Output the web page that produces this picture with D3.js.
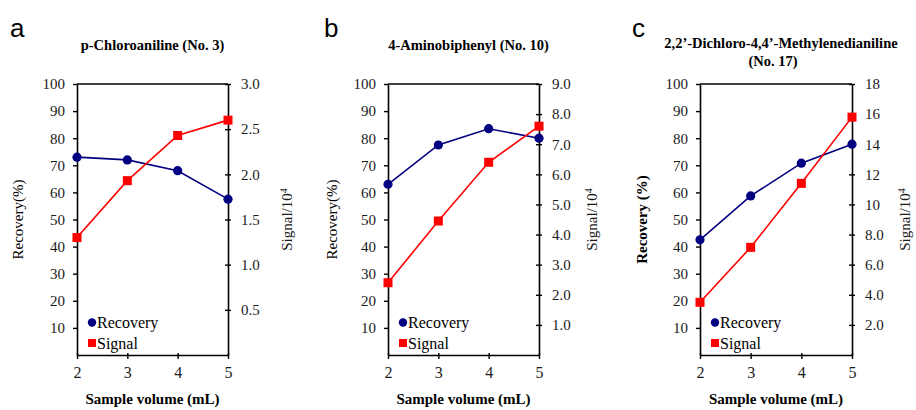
<!DOCTYPE html>
<html><head><meta charset="utf-8">
<script src="https://cdn.jsdelivr.net/npm/d3@7"></script>
<style>body{margin:0;background:#fff}svg{display:block}
svg text{font-family:"Liberation Serif","Tinos","Times New Roman","DejaVu Serif","Noto Serif",serif}</style>
</head><body>
<svg id="chart" width="916" height="410"></svg>
<script>
const volumes = [2, 3, 4, 5];
const panelLetters = ["a", "b", "c"];
const titles = [["p-Chloroaniline (No. 3)"], ["4-Aminobiphenyl (No. 10)"], ["2,2’-Dichloro-4,4’-Methylenedianiline", "(No. 17)"]];
const recoveryA = [73, 72, 68, 57.5];
const signalA = [1.30, 1.93, 2.43, 2.60];
const recoveryB = [63, 77.5, 83.5, 80];
const signalB = [2.4, 4.45, 6.4, 7.6];
const recoveryC = [42.5, 58.7, 70.8, 77.8];
const signalC = [3.5, 7.15, 11.4, 15.8];
const leftTicks = [10, 20, 30, 40, 50, 60, 70, 80, 90, 100];
const rightTicksA = [0.5, 1.0, 1.5, 2.0, 2.5, 3.0];
const rightLabelsA = ["0.5", "1.0", "1.5", "2.0", "2.5", "3.0"];
const rightTicksB = [1, 2, 3, 4, 5, 6, 7, 8, 9];
const rightLabelsB = ["1.0", "2.0", "3.0", "4.0", "5.0", "6.0", "7.0", "8.0", "9.0"];
const rightTicksC = [2, 4, 6, 8, 10, 12, 14, 16, 18];
const rightLabelsC = ["2.0", "4.0", "6.0", "8.0", "10", "12", "14", "16", "18"];
const rightMax = [3.0, 9.0, 18];
const yLabels = ["Recovery(%)", "Recovery(%)", "Recovery (%)"];
const seriesNames = ["Recovery", "Signal"];

(function () {
const panels = [
  {x0: 77, x1: 228, rec: recoveryA, sig: signalA, rt: rightTicksA, rl: rightLabelsA, ybold: false, ly: 59, ry: 59},
  {x0: 388, x1: 539, rec: recoveryB, sig: signalB, rt: rightTicksB, rl: rightLabelsB, ybold: false, ly: 56, ry: 53},
  {x0: 700, x1: 852, rec: recoveryC, sig: signalC, rt: rightTicksC, rl: rightLabelsC, ybold: true, ly: 58, ry: 53}
];
const plotTop = 84, plotBottom = 355;
const serif = '"Liberation Serif","Tinos","Times New Roman","DejaVu Serif","Noto Serif",serif';
const navy = "#000080", red = "#ff0000", ink = "#1a1a1a";
const svg = d3.select("#chart");

panels.forEach((p, i) => {
  const g = svg.append("g");
  const x = d3.scaleLinear().domain([2, 5]).range([p.x0, p.x1]);
  const yL = d3.scaleLinear().domain([0, 100]).range([plotBottom, plotTop]);
  const yR = d3.scaleLinear().domain([0, rightMax[i]]).range([plotBottom, plotTop]);

  g.append("line").attr("x1", p.x0).attr("x2", p.x1).attr("y1", plotTop).attr("y2", plotTop)
    .attr("stroke", "#000").attr("stroke-width", 1.6);

  const ax = (sel) => {
    sel.attr("font-family", null);
    sel.select(".domain").attr("stroke", "#000").attr("stroke-width", 1.6);
    sel.selectAll(".tick line").attr("stroke", "#000").attr("stroke-width", 1.4);
    sel.selectAll(".tick text").attr("fill", ink).style("font-family", serif).style("font-size", "15px");
  };

  const gl = g.append("g").attr("transform", `translate(${p.x0},0)`)
    .call(d3.axisLeft(yL).tickValues(leftTicks).tickSize(4).tickSizeOuter(0).tickPadding(8));
  ax(gl);

  const gr = g.append("g").attr("transform", `translate(${p.x1},0)`)
    .call(d3.axisRight(yR).tickValues(p.rt).tickFormat((d, k) => p.rl[k]).tickSize(3).tickSizeOuter(0).tickPadding(10));
  ax(gr);
  gr.selectAll(".tick line").attr("x1", -3);

  const gb = g.append("g").attr("transform", `translate(0,${plotBottom})`)
    .call(d3.axisBottom(x).tickValues(volumes).tickFormat(d3.format("d")).tickSize(4).tickSizeOuter(0).tickPadding(8));
  ax(gb);
  gb.selectAll(".tick line").attr("y1", -2);
  gb.selectAll(".tick text").style("font-size", "16px");

  const recLine = d3.line().x((d, k) => x(volumes[k])).y(d => yL(d));
  const sigLine = d3.line().x((d, k) => x(volumes[k])).y(d => yR(d));
  g.append("path").datum(p.rec).attr("d", recLine).attr("fill", "none").attr("stroke", navy).attr("stroke-width", 1.6);
  g.append("path").datum(p.sig).attr("d", sigLine).attr("fill", "none").attr("stroke", red).attr("stroke-width", 1.6);
  g.selectAll(".rec").data(p.rec).join("circle").attr("class", "rec")
    .attr("cx", (d, k) => x(volumes[k])).attr("cy", d => yL(d)).attr("r", 4.6).attr("fill", navy);
  g.selectAll(".sig").data(p.sig).join("rect").attr("class", "sig")
    .attr("x", (d, k) => x(volumes[k]) - 4.5).attr("y", d => yR(d) - 4.5)
    .attr("width", 9).attr("height", 9).attr("fill", red);

  const lx = p.x0 + 15;
  g.append("circle").attr("cx", lx).attr("cy", 322.5).attr("r", 4.2).attr("fill", navy);
  g.append("rect").attr("x", lx - 4).attr("y", 339).attr("width", 8).attr("height", 8).attr("fill", red);
  g.append("text").attr("x", lx + 5).attr("y", 328).text(seriesNames[0])
    .attr("fill", "#000").style("font-family", serif).style("font-size", "16px");
  g.append("text").attr("x", lx + 5).attr("y", 349).text(seriesNames[1])
    .attr("fill", "#000").style("font-family", serif).style("font-size", "16px");

  g.append("text").attr("x", (p.x0 + p.x1) / 2).attr("y", 404).attr("text-anchor", "middle")
    .text("Sample volume (mL)").attr("fill", "#000")
    .style("font-family", serif).style("font-size", "15px").style("font-weight", "bold");

  g.append("text").attr("transform", `translate(${p.x0 - p.ly + 5},${(plotTop + plotBottom) / 2}) rotate(-90)`)
    .attr("text-anchor", "middle").text(yLabels[i]).attr("fill", "#000")
    .style("font-family", serif).style("font-size", "15px").style("font-weight", p.ybold ? "bold" : "normal");

  const rt = g.append("text").attr("transform", `translate(${p.x1 + p.ry + 5},${(plotTop + plotBottom) / 2}) rotate(-90)`)
    .attr("text-anchor", "middle").attr("fill", ink)
    .style("font-family", serif).style("font-size", "15px");
  rt.append("tspan").text("Signal/10");
  rt.append("tspan").text("4").attr("dy", "-0.5em").style("font-size", "10px");

  const cx = (p.x0 + p.x1) / 2 + (i === 0 ? 0 : 5);
  titles[i].forEach((t, k) => {
    g.append("text").attr("x", cx - (k === 1 ? 8 : 0)).attr("y", (titles[i].length > 1 ? 48 : 50) + k * 18)
      .attr("text-anchor", "middle").text(t).attr("fill", "#000")
      .style("font-family", serif).style("font-size", "14.5px").style("font-weight", "bold");
  });

  g.append("text").attr("x", [10, 324, 632][i]).attr("y", 37).text(panelLetters[i])
    .attr("fill", "#000").style("font-family", "'Liberation Sans',Arial,sans-serif").style("font-size", "26px");
});
})();
</script>
</body></html>
